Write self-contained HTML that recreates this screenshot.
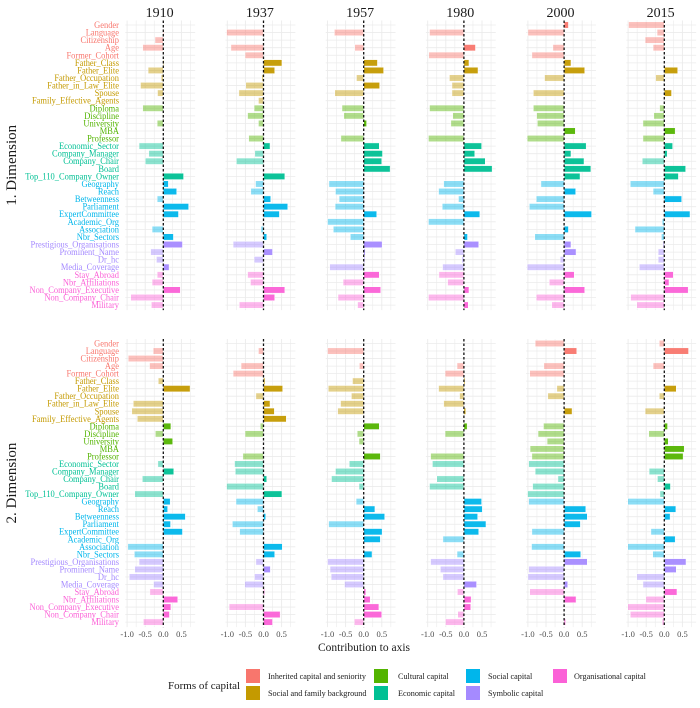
<!DOCTYPE html>
<html><head><meta charset="utf-8">
<style>
html,body{margin:0;padding:0;background:#fff;}
svg{display:block;font-family:"Liberation Serif",serif;}
</style></head>
<body>
<svg id="chart" width="700" height="708" viewBox="0 0 700 708" xmlns="http://www.w3.org/2000/svg"></svg>
<script>
const years = ["1910","1937","1957","1980","2000","2015"];
const variables = ["Gender","Language","Citizenship","Age","Former_Cohort","Father_Class","Father_Elite","Father_Occupation","Father_in_Law_Elite","Spouse","Family_Effective_Agents","Diploma","Discipline","University","MBA","Professor","Economic_Sector","Company_Manager","Company_Chair","Board","Top_110_Company_Owner","Geography","Reach","Betweenness","Parliament","ExpertCommittee","Academic_Org","Association","Nbr_Sectors","Prestigious_Organisations","Prominent_Name","Dr_hc","Media_Coverage","Stay_Abroad","Nbr_Affiliations","Non_Company_Executive","Non_Company_Chair","Military"];
const groupOf = [0,0,0,0,0,1,1,1,1,1,1,2,2,2,2,2,3,3,3,3,3,4,4,4,4,4,4,4,4,5,5,5,5,6,6,6,6,6];
const groupNames = ["Inherited capital and seniority","Social and family background","Cultural capital","Economic capital","Social capital","Symbolic capital","Organisational capital"];
const groupColors = ["#F8766D","#C49A00","#53B400","#00C094","#00B6EB","#A58AFF","#FB61D7"];
const xTicks = [-1.0,-0.5,0.0,0.5];
const xTickLabels = ["-1.0","-0.5","0.0","0.5"];

const dim1_1910 = [0,0.02,-0.23,-0.57,0,0.02,-0.42,-0.06,-0.63,-0.16,0.01,-0.57,-0.02,-0.17,0,0,-0.67,-0.4,-0.5,0,0.56,0.14,0.37,-0.17,0.7,0.42,0,-0.31,0.28,0.53,-0.35,-0.19,0.16,-0.17,-0.31,0.47,-0.9,-0.33];
const dim1_1937 = [0,-1.02,0,-0.9,-0.51,0.51,0.31,-0.05,-0.49,-0.68,-0.14,-0.26,-0.44,-0.14,0,-0.41,0.18,-0.24,-0.75,0,0.59,-0.22,-0.35,0.2,0.67,0.44,0,-0.07,0.09,-0.84,0.25,-0.26,-0.03,-0.44,-0.36,0.59,0.31,-0.67];
const dim1_1957 = [0,-0.81,0,-0.25,0,0.38,0.55,-0.2,0.44,-0.8,0,-0.6,-0.55,0.08,0,-0.63,0.43,0.52,0.5,0.73,0,-0.96,-0.78,-0.68,-0.79,0.36,-1.0,-0.84,-0.37,0.51,0.04,0.03,-0.94,0.43,-0.57,0.47,-0.71,-0.17];
const dim1_1980 = [0,-0.95,0,0.32,-0.97,0.14,0.39,-0.4,-0.33,-0.33,0,-0.95,-0.31,-0.36,0,-0.98,0.49,0.3,0.59,0.78,0,-0.56,-0.7,-0.15,-0.6,0.44,-0.98,0,0.1,0.41,-0.24,-0.06,-0.59,-0.69,-0.45,0.14,-0.98,0.12];
const dim1_2000 = [0.12,-1.0,0,-0.31,-0.89,0.19,0.57,-0.54,0,-0.85,0,-0.85,-0.76,-0.74,0.31,-1.02,0.61,0.19,0.55,0.74,0.44,-0.64,0.32,-0.77,-0.96,0.76,0,0.12,-0.81,0.19,0.33,-0.11,-1.02,0.28,-0.41,0.57,-0.77,-0.34];
const dim1_2015 = [-0.99,-0.2,-0.53,-0.31,0,0,0.37,-0.24,0,0.2,0,-0.13,-0.29,-0.59,0.3,-0.59,0.23,0.08,-0.61,0.59,0.39,-0.94,-0.31,0.48,0,0.71,-0.06,-0.81,-0.08,-0.04,-0.17,-0.17,-0.69,0.25,0.13,0.66,-0.93,-0.76];

const dim2_1910 = [0,-0.28,-0.97,-0.38,0,-0.14,0.74,0,-0.83,-0.87,-0.72,0.21,-0.22,0.26,0,0,-0.15,0.29,-0.58,0,-0.79,0.19,0.12,0.61,0.2,0.53,0,-0.98,-0.8,-0.67,-0.79,-0.94,-0.27,-0.37,0.4,0.21,0.17,-0.55];
const dim2_1937 = [0,-0.14,0,-0.62,-0.84,0.04,0.53,-0.21,0.18,0.3,0.63,-0.09,-0.51,0,0,-0.57,-0.8,-0.78,0.09,-1.02,0.51,-0.76,-0.17,0.06,-0.86,-0.66,0,0.52,0.31,-0.21,0.19,-0.25,-0.52,0.03,0,-0.95,0.46,0.25];
const dim2_1957 = [0,-1.0,0,-0.12,0,-0.31,-0.98,-0.34,-0.64,-0.72,0,0.43,-0.18,-0.13,0,0.46,-0.4,-0.78,-0.89,-0.13,0,-0.21,0.31,0.58,-0.97,0.51,0.46,0,0.23,-1.0,-0.93,-0.9,-0.53,0.06,0.18,0.42,0.5,-0.26];
const dim2_1980 = [0,0,0,-0.19,-0.52,0.03,-0.7,-0.12,-0.56,0.05,0,0.09,-0.52,0,0,-0.92,-0.87,0,-0.75,-0.95,0,0.49,0.51,0.38,0.61,0.41,-0.58,0,-0.19,-0.92,-0.65,-0.58,0.35,-0.18,0.2,0.19,-0.17,-0.51];
const dim2_2000 = [-0.8,0.35,0,-0.56,-0.95,0.01,-0.2,-0.45,0,0.22,0,-0.57,-0.72,-0.47,-0.94,-0.89,-0.98,-0.8,-0.17,-0.87,-1.01,-0.98,0.6,0.64,0.45,-0.89,0,-0.9,0.46,0.64,-0.98,-1.0,0.1,-0.95,0.33,0,0,0.04];
const dim2_2015 = [-0.14,0.67,0,-0.31,0,0,0.33,-0.14,0,-0.53,0,0.09,-0.43,0.11,0.55,0.52,-0.02,-0.42,-0.19,0.17,-0.12,-1.01,0.32,0.16,0,-0.37,0.3,-1.01,-0.32,0.6,0.33,-0.76,-0.59,0.35,-0.51,-1.01,-0.94,-0.06];

const dim1 = [dim1_1910,dim1_1937,dim1_1957,dim1_1980,dim1_2000,dim1_2015];
const dim2 = [dim2_1910,dim2_1937,dim2_1957,dim2_1980,dim2_2000,dim2_2015];

const svg = document.getElementById('chart');
const NS = "http://www.w3.org/2000/svg";
function mk(tag, attrs, parent){ const e=document.createElementNS(NS,tag); for(const k in attrs) e.setAttribute(k,attrs[k]); (parent||svg).appendChild(e); return e; }

const UNIT = 36.2;
const ZERO0 = 163.3, PANEL_STEP = 100.2;
function xScale(p, v){ return ZERO0 + p*PANEL_STEP + v*UNIT; }
const rows = [
  {name:"1. Dimension", data:dim1, top:20.5, step:7.57},
  {name:"2. Dimension", data:dim2, top:339, step:7.53}
];
function yScale(r, i){ return r.top + 4.5 + i*r.step; }

years.forEach((y,p)=>{
  const t = mk('text',{x:xScale(p,-0.1),y:17,'text-anchor':'middle','font-size':14,fill:'#1a1a1a'});
  t.textContent=y;
  
  
});

rows.forEach((r,ri)=>{
  const bottom = yScale(r,variables.length-1)+5;
  const cy = (r.top+bottom)/2;
  const rt = mk('text',{x:0,y:0,transform:`translate(16,${cy}) rotate(-90)`,'text-anchor':'middle','font-size':15,fill:'#1a1a1a'});
  rt.textContent = r.name;
  
  
  const lblG = mk('g',{transform:'translate(119,0) scale(0.88,1) translate(-119,0)'});
  
  
  variables.forEach((v,i)=>{
    const t = mk('text',{x:119,y:yScale(r,i)+3,'text-anchor':'end','font-size':9.6,fill:groupColors[groupOf[i]]},lblG);
    t.textContent=v;
    
    
  });
  years.forEach((yr,p)=>{
    const g = mk('g',{});
    
    
    const left = xScale(p,-1.05), right = xScale(p,0.88);
    variables.forEach((v,i)=>{
      mk('line',{x1:left,x2:right,y1:yScale(r,i),y2:yScale(r,i),stroke:'#ebebeb','stroke-width':0.8},g);
    });
    [-1,-0.75,-0.5,-0.25,0.25,0.5,0.75].forEach(t=>{
      mk('line',{x1:xScale(p,t),x2:xScale(p,t),y1:r.top,y2:bottom,stroke:'#ebebeb','stroke-width':(t*4)%2===0?0.9:0.6},g);
    });
    const vals = r.data[p];
    vals.forEach((val,i)=>{
      if(val===0) return;
      const x0=xScale(p,0), x1=xScale(p,val);
      const b = mk('rect',{x:Math.min(x0,x1),y:yScale(r,i)-3.2,width:Math.abs(x1-x0),height:6.4,fill:groupColors[groupOf[i]],'fill-opacity':val>0?0.95:0.45,stroke:'#fff','stroke-width':0.5},g);
      
      
    });
    const z = mk('line',{x1:xScale(p,0),x2:xScale(p,0),y1:r.top,y2:bottom,stroke:'#111','stroke-width':1.3,'stroke-dasharray':'2.5,2'},g);
    
    
    if(ri===1){
      xTicks.forEach((t,k)=>{
        const tl = mk('text',{x:xScale(p,t),y:637,'text-anchor':'middle','font-size':8.5,fill:'#4d4d4d'});
        tl.textContent=xTickLabels[k];
        
        
      });
    }
  });
});

const xt = mk('text',{x:364,y:651,'text-anchor':'middle','font-size':11.5,fill:'#1a1a1a'});
xt.textContent='Contribution to axis';



const lg = mk('g',{});


const lt = mk('text',{x:168,y:689,'font-size':11,fill:'#1a1a1a'},lg);
lt.textContent='Forms of capital';


const legCols=[246,374,466,553], legTxt=[268,398,488,574], legRows=[676,693];
const legOrder=[[0,0,0],[1,0,1],[2,1,0],[3,1,1],[4,2,0],[5,2,1],[6,3,0]];
legOrder.forEach(([gi,c,rr])=>{
  const s = mk('rect',{x:legCols[c],y:legRows[rr]-7,width:14,height:14,fill:groupColors[gi]},lg);
  
  
  const t = mk('text',{x:legTxt[c],y:legRows[rr]+3,'font-size':8.2,fill:'#1a1a1a'},lg);
  t.textContent=groupNames[gi];
  
  
});
</script>
</body></html>
